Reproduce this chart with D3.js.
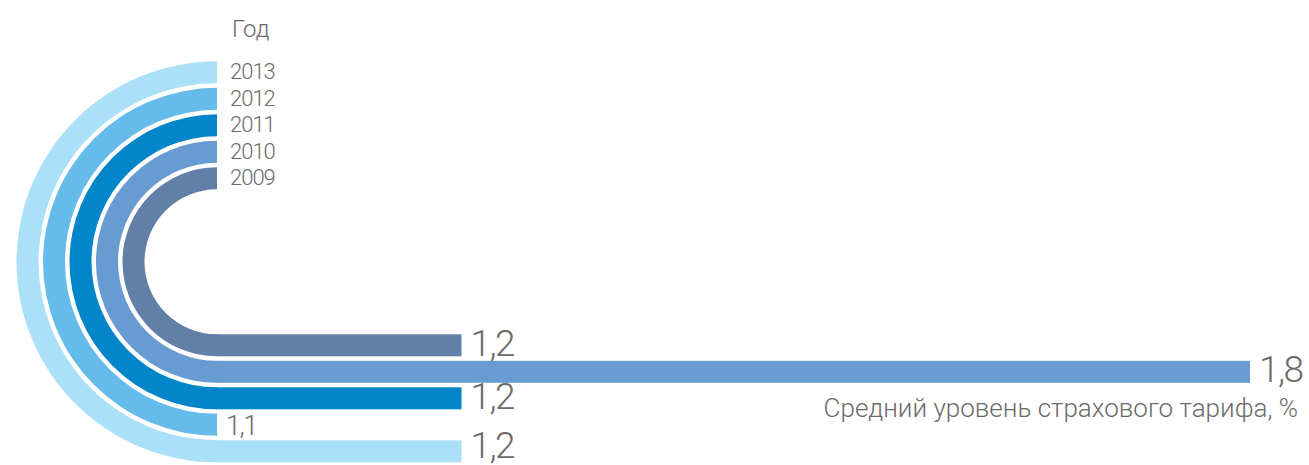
<!DOCTYPE html>
<html>
<head>
<meta charset="utf-8">
<script src="https://cdn.jsdelivr.net/npm/d3@7"></script>
<style>
  html, body { margin: 0; padding: 0; background: #ffffff; }
  svg { display: block; }
  text { font-family: Roboto, "Open Sans", sans-serif; font-weight: 300; fill: #6b6b6b; }
</style>
</head>
<body>
<div id="okvir"></div>
<script>
// podaci (od unutarnjeg prstena prema vanjskom)
const godine = ["2009", "2010", "2011", "2012", "2013"];
const vrijednosti = [1.2, 1.8, 1.2, 1.1, 1.2];
const oznakeVrijednosti = ["1,2", "1,8", "1,2", "1,1", "1,2"];
const naslovGodina = "Год";
const naslovOsi = "Средний уровень страхового тарифа, %";

function crtaj() {
    const dimenzije = { sirina: 1309, visina: 465 };
    const centar = { x: 217, y: 261.8 };
    const debljina = 22;

    const okvir = d3.select("#okvir")
        .append("svg")
        .attr("width", dimenzije.sirina)
        .attr("height", dimenzije.visina);

    // razmjeri
    const boje = d3.scaleOrdinal()
        .domain(godine)
        .range(["#627fa8", "#689bd2", "#0285c9", "#65bbe9", "#abe0f9"]);

    const rSkala = d3.scalePoint()
        .domain(godine)
        .range([94.5, 200.5]);   // vanjski radijus prstena

    // duljina trake - nije linearna od nule na originalu
    const xSkala = d3.scaleLinear()
        .domain([1.1, 1.2, 1.8])
        .range([centar.x, 461.5, 1250]);

    const podatci = godine.map((g, i) => ({
        godina: g,
        vrijednost: vrijednosti[i],
        oznaka: oznakeVrijednosti[i]
    }));

    const arcGen = d3.arc()
        .innerRadius(d => rSkala(d.godina) - debljina)
        .outerRadius(d => rSkala(d.godina))
        .startAngle(0)
        .endAngle(-Math.PI);

    const granice = okvir.append("g");

    // polukrugovi
    granice.append("g")
        .attr("transform", `translate(${centar.x},${centar.y})`)
        .selectAll("path")
        .data(podatci)
        .join("path")
        .attr("d", arcGen)
        .attr("fill", d => boje(d.godina));

    // trake
    granice.append("g")
        .selectAll("rect")
        .data(podatci)
        .join("rect")
        .attr("x", centar.x - 1)
        .attr("y", d => centar.y + rSkala(d.godina) - debljina)
        .attr("width", d => Math.max(0, xSkala(d.vrijednost) - centar.x) + 1)
        .attr("height", debljina)
        .attr("fill", d => boje(d.godina));

    // oznake vrijednosti (zadnja malo podignuta da zarez ne izadje van)
    granice.append("g")
        .selectAll("text")
        .data(podatci)
        .join("text")
        .attr("x", d => xSkala(d.vrijednost) + 9)
        .attr("y", d => Math.min(centar.y + rSkala(d.godina) - 0.5, dimenzije.visina - 7))
        .style("font-size", d => (xSkala(d.vrijednost) - centar.x < 5 ? 27 : 37) + "px")
        .style("letter-spacing", "-1.5px")
        .text(d => d.oznaka);

    // oznake godina
    granice.append("g")
        .selectAll("text")
        .data(podatci)
        .join("text")
        .attr("x", centar.x + 13)
        .attr("y", d => centar.y - rSkala(d.godina) + 18)
        .style("font-size", "22px")
        .style("letter-spacing", "-1px")
        .text(d => d.godina);

    granice.append("text")
        .attr("x", 232)
        .attr("y", 37)
        .style("font-size", "24px")
        .text(naslovGodina);

    granice.append("text")
        .attr("x", 1298)
        .attr("y", 417)
        .attr("text-anchor", "end")
        .style("font-size", "26px")
        .text(naslovOsi);
}
crtaj();
</script>
</body>
</html>
